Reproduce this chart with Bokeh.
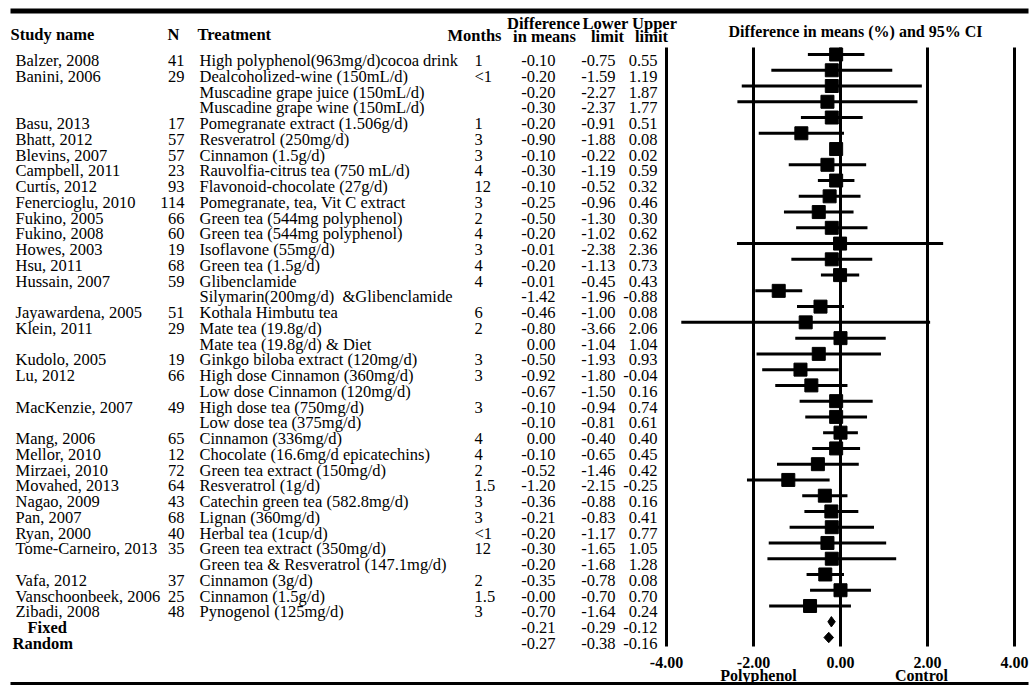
from bokeh.plotting import figure
from bokeh.models import Range1d, ColumnDataSource
from bokeh.core.properties import value
from bokeh.embed import file_html
from bokeh.resources import INLINE

# ---------------- data ----------------
study = ["Balzer, 2008", "Banini, 2006", "", "", "Basu, 2013", "Bhatt, 2012", "Blevins, 2007",
         "Campbell, 2011", "Curtis, 2012", "Fenercioglu, 2010", "Fukino, 2005", "Fukino, 2008",
         "Howes, 2003", "Hsu, 2011", "Hussain, 2007", "", "Jayawardena, 2005", "Klein, 2011", "",
         "Kudolo, 2005", "Lu, 2012", "", "MacKenzie, 2007", "", "Mang, 2006", "Mellor, 2010",
         "Mirzaei, 2010", "Movahed, 2013", "Nagao, 2009", "Pan, 2007", "Ryan, 2000",
         "Tome-Carneiro, 2013", "", "Vafa, 2012", "Vanschoonbeek, 2006", "Zibadi, 2008"]
n_subj = ["41", "29", "", "", "17", "57", "57", "23", "93", "114", "66", "60", "19", "68", "59", "",
          "51", "29", "", "19", "66", "", "49", "", "65", "12", "72", "64", "43", "68", "40", "35", "",
          "37", "25", "48"]
treatment = ["High polyphenol(963mg/d)cocoa drink", "Dealcoholized-wine (150mL/d)",
             "Muscadine grape juice (150mL/d)", "Muscadine grape wine (150mL/d)",
             "Pomegranate extract (1.506g/d)", "Resveratrol (250mg/d)", "Cinnamon (1.5g/d)",
             "Rauvolfia-citrus tea (750 mL/d)", "Flavonoid-chocolate (27g/d)",
             "Pomegranate, tea, Vit C extract", "Green tea (544mg polyphenol)",
             "Green tea (544mg polyphenol)", "Isoflavone (55mg/d)", "Green tea (1.5g/d)",
             "Glibenclamide", "Silymarin(200mg/d) \u00a0&Glibenclamide", "Kothala Himbutu tea",
             "Mate tea (19.8g/d)", "Mate tea (19.8g/d) & Diet", "Ginkgo biloba extract (120mg/d)",
             "High dose Cinnamon (360mg/d)", "Low dose Cinnamon (120mg/d)",
             "High dose tea (750mg/d)", "Low dose tea (375mg/d)", "Cinnamon (336mg/d)",
             "Chocolate (16.6mg/d epicatechins)", "Green tea extract (150mg/d)",
             "Resveratrol (1g/d)", "Catechin green tea (582.8mg/d)", "Lignan (360mg/d)",
             "Herbal tea (1cup/d)", "Green tea extract (350mg/d)",
             "Green tea & Resveratrol (147.1mg/d)", "Cinnamon (3g/d)", "Cinnamon (1.5g/d)",
             "Pynogenol (125mg/d)"]
months = ["1", "<1", "", "", "1", "3", "3", "4", "12", "3", "2", "4", "3", "4", "4", "", "6", "2", "",
          "3", "3", "", "3", "", "4", "4", "2", "1.5", "3", "3", "<1", "12", "", "2", "1.5", "3"]
diff = [-0.10, -0.20, -0.20, -0.30, -0.20, -0.90, -0.10, -0.30, -0.10, -0.25, -0.50, -0.20,
        -0.01, -0.20, -0.01, -1.42, -0.46, -0.80, 0.00, -0.50, -0.92, -0.67, -0.10, -0.10,
        0.00, -0.10, -0.52, -1.20, -0.36, -0.21, -0.20, -0.30, -0.20, -0.35, -0.0, -0.70]
lower = [-0.75, -1.59, -2.27, -2.37, -0.91, -1.88, -0.22, -1.19, -0.52, -0.96, -1.30, -1.02,
         -2.38, -1.13, -0.45, -1.96, -1.00, -3.66, -1.04, -1.93, -1.80, -1.50, -0.94, -0.81,
         -0.40, -0.65, -1.46, -2.15, -0.88, -0.83, -1.17, -1.65, -1.68, -0.78, -0.70, -1.64]
upper = [0.55, 1.19, 1.87, 1.77, 0.51, 0.08, 0.02, 0.59, 0.32, 0.46, 0.30, 0.62,
         2.36, 0.73, 0.43, -0.88, 0.08, 2.06, 1.04, 0.93, -0.04, 0.16, 0.74, 0.61,
         0.40, 0.45, 0.42, -0.25, 0.16, 0.41, 0.77, 1.05, 1.28, 0.08, 0.70, 0.24]

summary_names = ["Fixed", "Random"]
summary_diff = [-0.21, -0.27]
summary_lower = [-0.29, -0.38]
summary_upper = [-0.12, -0.16]

axis_ticks = [-4.0, -2.0, 0.0, 2.0, 4.0]
axis_side_labels = ["Polyphenol", "Control"]

# ---------------- layout helpers (page pixel positions of layout items) ----------------
W, H = 1031, 687
ROW1_PAGE = 54.0
ROW_PX = 15.757
PX_PER_UNIT = 43.5
ZERO_PAGE = 840.0
TXT = -5  # renderer places alphabetic baselines a little low


def ry(page_y):
    return 1 + (page_y - ROW1_PAGE) / ROW_PX


def ty(page_y):
    return ry(page_y + TXT)


FONT = value("Liberation Serif")
FS = value("16.5px")

p = figure(width=W, height=H, output_backend="svg", toolbar_location=None,
           x_range=Range1d(0, W), y_range=Range1d(ry(H), ry(0)),
           x_axis_location=None, y_axis_location=None, min_border=0)
p.grid.visible = False
p.outline_line_color = None
p.background_fill_color = "white"
p.extra_x_ranges = {"diff": Range1d((0 - ZERO_PAGE) / PX_PER_UNIT,
                                    (W - ZERO_PAGE) / PX_PER_UNIT)}

rows = list(range(1, len(study) + 1))
srows = list(range(len(study) + 1, len(study) + 1 + len(summary_names)))

src = ColumnDataSource(dict(
    y=rows, study=study, n=n_subj, trt=treatment, mon=months,
    diff=diff, lower=lower, upper=upper,
    dtxt=[f"{v:.2f}" for v in diff], ltxt=[f"{v:.2f}" for v in lower],
    utxt=[f"{v:.2f}" for v in upper]))
ssrc = ColumnDataSource(dict(
    y=srows, name=summary_names,
    dtxt=[f"{v:.2f}" for v in summary_diff], ltxt=[f"{v:.2f}" for v in summary_lower],
    utxt=[f"{v:.2f}" for v in summary_upper],
    xs=[[lo, d, hi, d] for lo, d, hi in zip(summary_lower, summary_diff, summary_upper)],
    ys=[[r, r - 0.33, r, r + 0.33] for r in srows]))

# ---------------- rules ----------------
p.segment(x0=[10], x1=[1028], y0=[ry(10.5)], y1=[ry(10.5)], line_width=5, line_color="black")
p.segment(x0=[10], x1=[1028], y0=[ry(683)], y1=[ry(683)], line_width=3, line_color="black")

# ---------------- headers ----------------
def hdr(x, y, t, align, size=FS):
    p.text(x=[x], y=[ty(y)], text=[t], text_align=align, text_baseline="alphabetic",
           text_font=FONT, text_font_size=size, text_font_style="bold", text_color="black")

hdr(10, 39, "Study name", "left")
hdr(173, 39, "N", "center")
hdr(197, 39, "Treatment", "left")
hdr(501, 40, "Months", "right")
hdr(543, 28, "Difference", "center")
hdr(544, 41, "in means", "center")
hdr(605, 28, "Lower", "center")
hdr(607, 41, "limit", "center")
hdr(654, 28, "Upper", "center")
hdr(651, 41, "limit", "center")
hdr(855, 36, "Difference in means (%) and 95% CI", "center", value("16px"))

# ---------------- table body ----------------
OFF = 11 + TXT
common = dict(source=src, y="y", y_offset=OFF, text_baseline="alphabetic",
              text_font=FONT, text_font_size=FS, text_color="black")
p.text(x=15, text="study", text_align="left", **common)
p.text(x=184, text="n", text_align="right", **common)
p.text(x=199, text="trt", text_align="left", **common)
p.text(x=474, text="mon", text_align="left", **common)
p.text(x=555, text="dtxt", text_align="right", **common)
p.text(x=615, text="ltxt", text_align="right", **common)
p.text(x=657, text="utxt", text_align="right", **common)

scommon = dict(source=ssrc, y="y", y_offset=OFF, text_baseline="alphabetic",
               text_font=FONT, text_font_size=FS, text_color="black")
p.text(x=[27, 12], y=srows, text=summary_names, y_offset=OFF, text_baseline="alphabetic",
       text_font=FONT, text_font_size=FS, text_font_style="bold", text_color="black")
p.text(x=555, text="dtxt", text_align="right", **scommon)
p.text(x=615, text="ltxt", text_align="right", **scommon)
p.text(x=657, text="utxt", text_align="right", **scommon)

# ---------------- forest plot ----------------
p.segment(x0=axis_ticks, x1=axis_ticks, y0=[ry(47)] * len(axis_ticks), y1=[ry(646)] * len(axis_ticks),
          x_range_name="diff", line_width=3, line_color="black")
p.segment(x0="lower", x1="upper", y0="y", y1="y", source=src, x_range_name="diff",
          line_width=3, line_color="black")
p.scatter(x="diff", y="y", source=src, x_range_name="diff", marker="square", size=13,
          fill_color="black", line_color="black")
p.patches(xs="xs", ys="ys", source=ssrc, x_range_name="diff", fill_color="black", line_color="black")

p.text(x=axis_ticks, y=[ty(667)] * len(axis_ticks), text=[f"{t:.2f}" for t in axis_ticks],
       x_range_name="diff", text_align="center", text_baseline="alphabetic", text_font=FONT,
       text_font_size=value("16px"), text_font_style="bold", text_color="black")
p.text(x=[-1.885, 1.86], y=[ty(680)] * 2, text=axis_side_labels, x_range_name="diff",
       text_align="center", text_baseline="alphabetic", text_font=FONT,
       text_font_size=value("16px"), text_font_style="bold", text_color="black")

open("out.html", "w").write(file_html(p, INLINE))
